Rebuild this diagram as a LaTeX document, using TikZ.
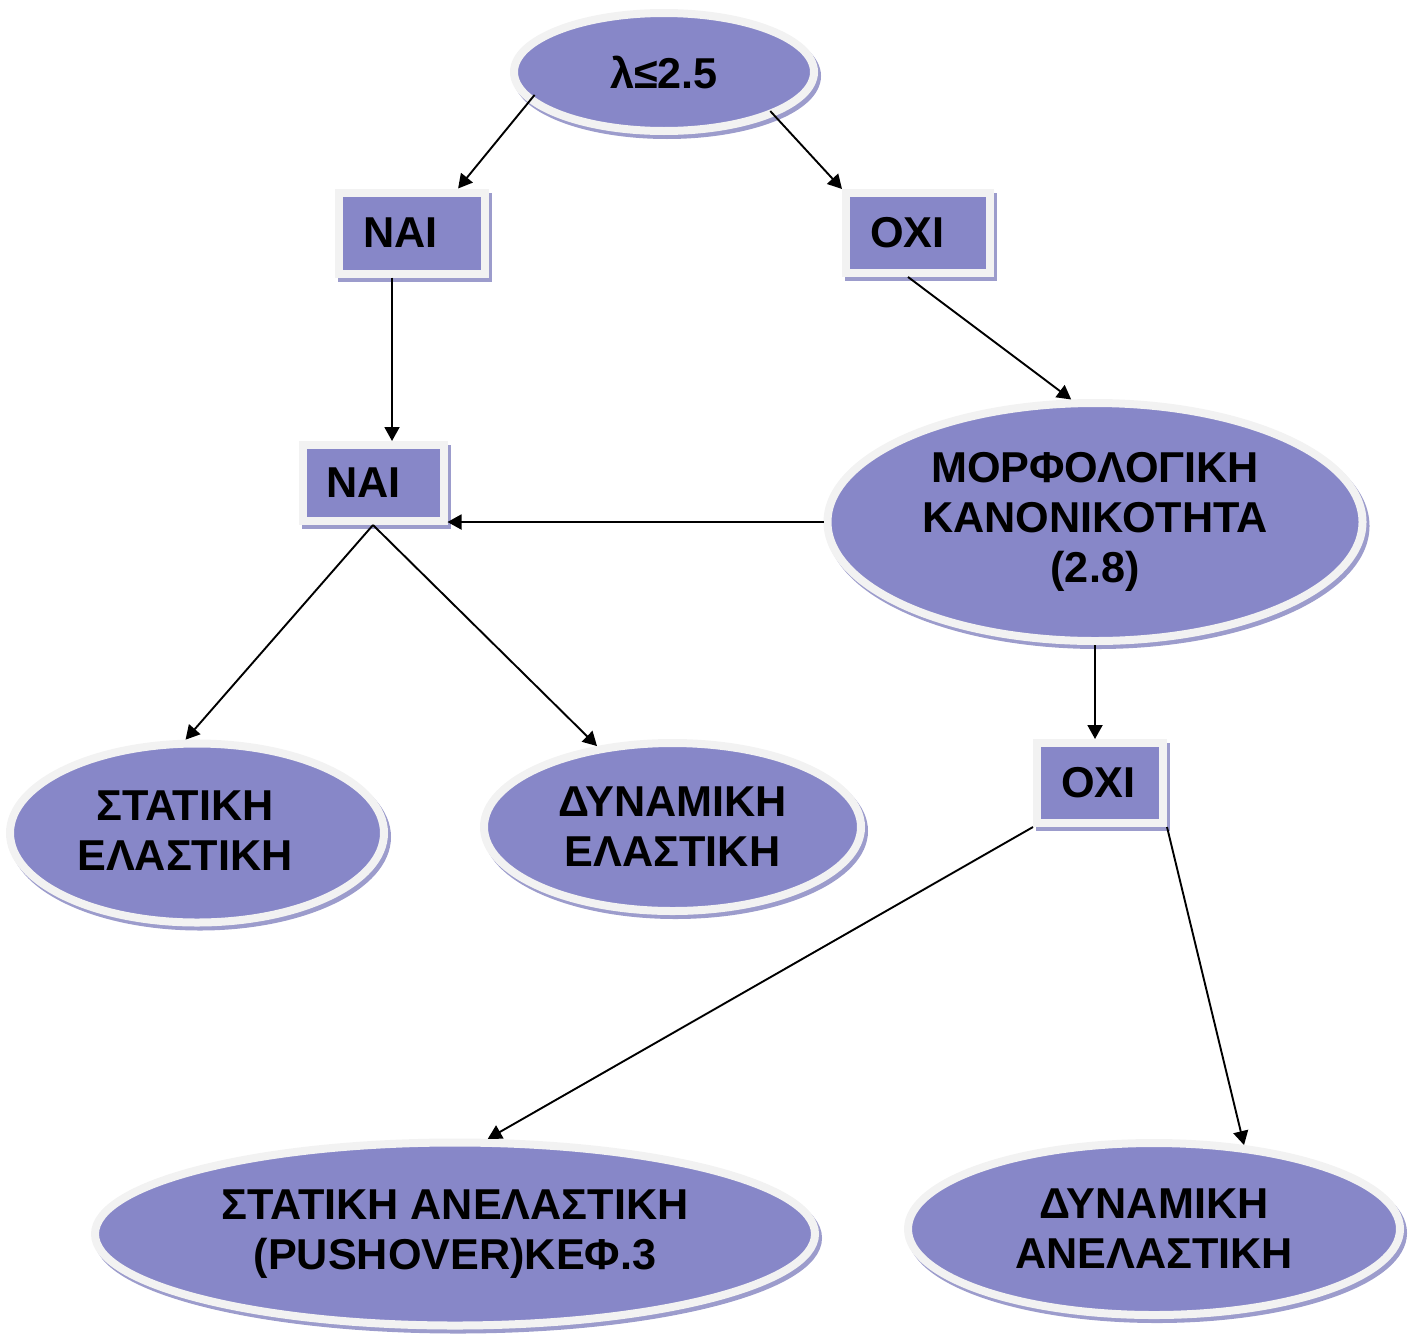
\documentclass[tikz,border=0pt]{standalone}
\usepackage{fontspec}
\setmainfont{Liberation Sans}
\usepackage{tikz}
\usetikzlibrary{positioning,calc,shapes.geometric,arrows.meta}
\definecolor{FlowFill}{HTML}{8787C8}
\definecolor{FlowRim}{HTML}{F2F2F2}
\definecolor{FlowShade}{HTML}{9C9CCC}

\begin{document}
\begin{tikzpicture}[x=0.5pt,y=-0.5pt,
    every node/.style={font=\fontsize{21.6}{25}\selectfont\bfseries},
    dropshade/.style={preaction={draw=FlowShade,fill=FlowShade,line width=4pt,
        transform canvas={shift={(1.5pt,-2pt)}}}},
    flowoval/.style={ellipse,dropshade,fill=FlowFill,draw=FlowRim,line width=4pt,
        inner sep=0pt,align=center},
    flowbox/.style={rectangle,dropshade,fill=FlowFill,draw=FlowRim,line width=4pt,
        inner xsep=12pt,inner ysep=0pt,align=left},
    flowarrow/.style={-{Triangle[length=7pt,width=7.5pt]},line width=0.95pt}]
        \useasboundingbox (0,0) rectangle (1417,1333);

        % Question
        \node[flowoval,minimum width=150pt,minimum height=59pt] (cond) at (664,72) {λ≤2.5};

        % Answers
        \node[flowbox,text width=49pt,minimum height=40.5pt] (yes1) at (412,233) {ΝΑΙ};
        \node[flowbox,text width=48pt,minimum height=40pt] (no1) at (918,233) {ΟΧΙ};

        % Regularity
        \node[flowoval,minimum width=267.5pt,minimum height=119pt] (morph) at (1095,522)
            {ΜΟΡΦΟΛΟΓΙΚΗ\\ΚΑΝΟΝΙΚΟΤΗΤΑ\\(2.8)};
        \node[flowbox,text width=46.5pt,minimum height=38pt] (yes2) at (373,483) {ΝΑΙ};
        \node[flowbox,text width=39pt,minimum height=40pt] (no2) at (1100,783) {ΟΧΙ};

        % Methods
        \node[flowoval,minimum width=187pt,minimum height=89.5pt,
            label={[align=center,xshift=-6pt,yshift=1pt]center:ΣΤΑΤΙΚΗ\\ΕΛΑΣΤΙΚΗ}] (stat) at (197,833) {};
        \node[flowoval,minimum width=188.5pt,minimum height=84pt] (dyn) at (672.5,827)
            {ΔΥΝΑΜΙΚΗ\\ΕΛΑΣΤΙΚΗ};
        \node[flowoval,minimum width=360pt,minimum height=91.5pt] (push) at (455,1234)
            {ΣΤΑΤΙΚΗ ΑΝΕΛΑΣΤΙΚΗ\\(PUSHOVER)ΚΕΦ.3};
        \node[flowoval,minimum width=246pt,minimum height=86pt] (dynan) at (1154,1229)
            {ΔΥΝΑΜΙΚΗ\\ΑΝΕΛΑΣΤΙΚΗ};

        % Arrows
        \draw[flowarrow] ([xshift=6pt,yshift=1pt]cond.190) -- (yes1.44);
        \draw[flowarrow] ([xshift=-3pt,yshift=2pt]cond.-21) -- (no1.north west);
        \draw[flowarrow] ([xshift=-10pt]yes1.south) -- ([xshift=-10pt]yes1.south |- yes2.north);
        \draw[flowarrow] ([xshift=-5pt]no1.south) -- (morph.101);
        \draw[flowarrow] (morph.west) -- (morph.west -| yes2.east);
        \draw[flowarrow] (yes2.south) -- (stat.97);
        \draw[flowarrow] (yes2.south) -- (dyn.133);
        \draw[flowarrow] (morph.south) -- (morph.south |- no2.north);
        \draw[flowarrow] (no2.south west) -- (push.71);
        \draw[flowarrow] (no2.south east) -- (dynan.43);
      \end{tikzpicture}
\end{document}
